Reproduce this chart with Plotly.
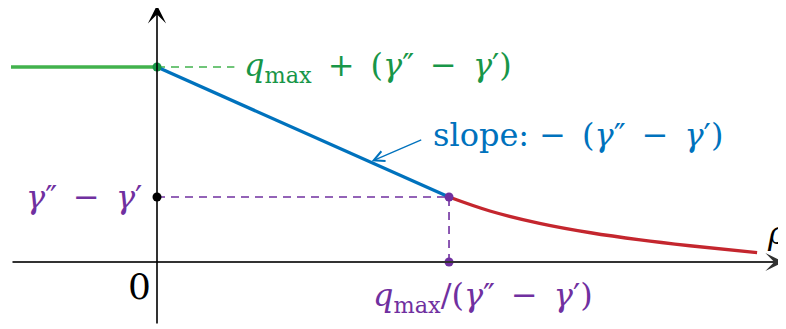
import plotly.graph_objects as go

# values (gamma'' - gamma' = 1, q_max = 2)
gap = 1.0
q_max = 2.0
rho_kink = q_max / gap

rho_green = [-1.0, 0.0]
q_green = [q_max + gap, q_max + gap]

rho_blue = [0.0, rho_kink]
q_blue = [q_max + gap, gap]

rho_red = [2.0, 2.28, 2.62, 2.97, 3.31, 3.65, 4.11]
q_red = [1.0, 0.785, 0.595, 0.45, 0.34, 0.25, 0.143]

x_axis_span = [-1.0, 4.29]
y_axis_span = [-0.97, 3.95]

GREEN = "rgb(66,178,77)"
GREEN_DARK = "rgb(24,150,72)"
BLUE = "rgb(0,114,189)"
RED = "rgb(196,38,46)"
PURPLE = "rgb(112,48,160)"
FONT = "DejaVu Serif"

fig = go.Figure()

# dashed guides
fig.add_trace(go.Scatter(x=[0, 0.53], y=q_green, mode="lines",
                         line=dict(color=GREEN, width=1.6, dash="8px,6px")))
fig.add_trace(go.Scatter(x=[0, rho_kink], y=[gap, gap], mode="lines",
                         line=dict(color=PURPLE, width=1.6, dash="8px,6px")))
fig.add_trace(go.Scatter(x=[rho_kink, rho_kink], y=[0, gap], mode="lines",
                         line=dict(color=PURPLE, width=1.6, dash="8px,6px")))

# main curves
fig.add_trace(go.Scatter(x=rho_green, y=q_green, mode="lines",
                         line=dict(color=GREEN, width=3.3)))
fig.add_trace(go.Scatter(x=rho_blue, y=q_blue, mode="lines",
                         line=dict(color=BLUE, width=3.3)))
fig.add_trace(go.Scatter(x=rho_red, y=q_red, mode="lines",
                         line=dict(color=RED, width=3.3, shape="spline")))

# axes with arrows
fig.add_annotation(x=x_axis_span[1], y=0, ax=x_axis_span[0], ay=0,
                   xref="x", yref="y", axref="x", ayref="y", text="",
                   showarrow=True, arrowhead=3, arrowsize=1.5, arrowwidth=2,
                   arrowcolor="rgb(50,50,50)")
fig.add_annotation(x=0, y=y_axis_span[1], ax=0, ay=y_axis_span[0],
                   xref="x", yref="y", axref="x", ayref="y", text="",
                   showarrow=True, arrowhead=3, arrowsize=1.9, arrowwidth=1.6,
                   arrowcolor="black")

# dots
fig.add_trace(go.Scatter(x=[0], y=[q_max + gap], mode="markers",
                         marker=dict(color=GREEN_DARK, size=9)))
fig.add_trace(go.Scatter(x=[0], y=[gap], mode="markers",
                         marker=dict(color="black", size=9)))
fig.add_trace(go.Scatter(x=[rho_kink, rho_kink], y=[gap, 0], mode="markers",
                         marker=dict(color=PURPLE, size=9)))

# slope arrow
fig.add_annotation(x=1.47, y=1.55, ax=1.82, ay=1.89,
                   xref="x", yref="y", axref="x", ayref="y", text="",
                   showarrow=True, arrowhead=5, arrowsize=1.6, arrowwidth=1.3,
                   arrowcolor=BLUE)

# labels
fs = 32
sp = "\u2002"
fig.add_annotation(x=0.58, y=3.0, xanchor="left", yanchor="middle", showarrow=False,
                   text=f"<i>q</i><sub>max</sub>{sp}+{sp}(<i>γ</i>″{sp}−{sp}<i>γ</i>′)",
                   font=dict(family=FONT, size=fs, color=GREEN_DARK))
fig.add_annotation(x=1.88, y=1.95, xanchor="left", yanchor="middle", showarrow=False,
                   text=f"slope: −{sp}(<i>γ</i>″{sp}−{sp}<i>γ</i>′)",
                   font=dict(family=FONT, size=fs, color=BLUE))
fig.add_annotation(x=-0.09, y=1.0, xanchor="right", yanchor="middle", showarrow=False,
                   text=f"<i>γ</i>″{sp}−{sp}<i>γ</i>′",
                   font=dict(family=FONT, size=fs, color=PURPLE))
fig.add_annotation(x=-0.123, y=-0.37, xanchor="center", yanchor="middle", showarrow=False,
                   text="0", font=dict(family=FONT, size=36, color="black"))
fig.add_annotation(x=2.23, y=-0.54, xanchor="center", yanchor="middle", showarrow=False,
                   text=f"<i>q</i><sub>max</sub>/(<i>γ</i>″{sp}−{sp}<i>γ</i>′)",
                   font=dict(family=FONT, size=fs, color=PURPLE))
fig.add_annotation(x=4.247, y=0.45, xanchor="center", yanchor="middle", showarrow=False,
                   text="<i>ρ</i>", font=dict(family=FONT, size=fs, color="black"))

# page body keeps an 8px margin, so the figure is 8px smaller than the window
fig.update_layout(
    width=778, height=321,
    margin=dict(l=0, r=0, t=0, b=0),
    paper_bgcolor="white", plot_bgcolor="white",
    showlegend=False,
    xaxis=dict(range=[-1.0205, 4.308], visible=False, fixedrange=True),
    yaxis=dict(range=[-1.031, 3.908], visible=False, fixedrange=True),
)

fig.write_html("out.html")
